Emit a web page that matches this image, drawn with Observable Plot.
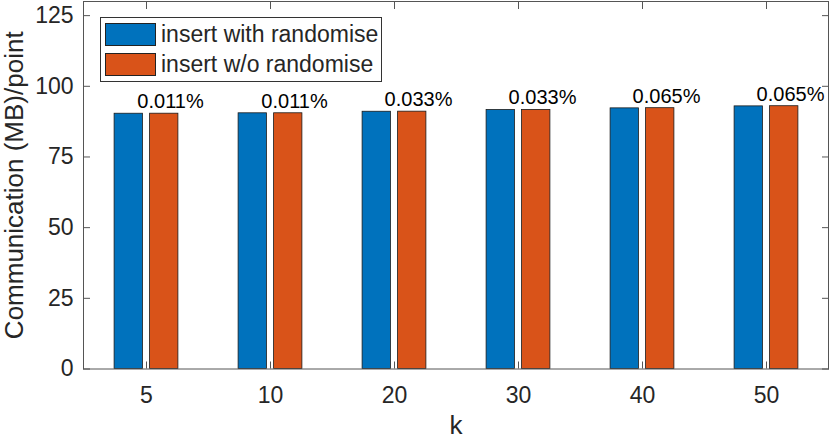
<!DOCTYPE html>
<html><head><meta charset="utf-8">
<script src="https://cdn.jsdelivr.net/npm/d3@7"></script>
<script src="https://cdn.jsdelivr.net/npm/@observablehq/plot@0.6"></script>
<style>
body{margin:0;background:#fff;}
#wrap{position:relative;width:830px;height:441px;font-family:"Liberation Sans",Arial,sans-serif;}
#wrap svg{display:block;}
.lg{position:absolute;left:100px;top:17px;width:280px;height:63px;border:1px solid #333;background:#fff;box-sizing:content-box;}
.sw{position:absolute;left:4px;width:49px;height:21px;border:1px solid #222;}
.lt{position:absolute;left:60px;height:23px;line-height:23px;font-size:23px;color:#262626;white-space:nowrap;}
</style></head><body><div id="wrap"></div>
<script>
const categories = ["5","10","20","30","40","50"];
const seriesNames = ["insert with randomise","insert w/o randomise"];
const withRandomise = [90.3,90.45,91.0,91.6,92.2,92.9];
const withoutRandomise = [90.31,90.46,91.03,91.63,92.26,92.96];
const diffLabels = ["0.011%","0.011%","0.033%","0.033%","0.065%","0.065%"];
const yTicks = [0,25,50,75,100,125];
const xLabel = "k";
const yLabel = "Communication (MB)/point";
const colors = ["#0072BD","#D95319"];

const rowsA = categories.map((k,i)=>({k, v: withRandomise[i]}));
const rowsB = categories.map((k,i)=>({k, v: withoutRandomise[i], label: diffLabels[i]}));

const axisColor = "#262626";
const lineColor = "#555";

const plot = Plot.plot({
  width: 830, height: 441,
  marginLeft: 83, marginRight: 2, marginTop: 1, marginBottom: 72.5,
  style: {fontFamily: "Liberation Sans, Arial, sans-serif", background: "white", color: axisColor},
  x: {type: "band", domain: categories, range: [82, 830], padding: 0},
  y: {domain: [0, 130]},
  marks: [
    Plot.barY(rowsA, {x: "k", y: "v", fill: colors[0], stroke: "#1a1a1a", strokeWidth: 0.8, insetLeft: 30.1, insetRight: 65.6}),
    Plot.barY(rowsB, {x: "k", y: "v", fill: colors[1], stroke: "#1a1a1a", strokeWidth: 0.8, insetLeft: 65.6, insetRight: 30.1}),
    Plot.text(rowsB, {x: "k", y: "v", text: "label", dx: 24, dy: -12, fontSize: 20, fill: "#000"}),
    Plot.axisY({anchor: "left", ticks: yTicks, tickSize: -7, tickPadding: 17, fontSize: 23, label: null, stroke: lineColor, fill: axisColor}),
    Plot.axisY({anchor: "right", ticks: yTicks, tickSize: -7, tickFormat: () => "", label: null, stroke: lineColor}),
    Plot.axisX({anchor: "bottom", tickSize: -7, tickPadding: 25, fontSize: 23, label: null, stroke: lineColor, fill: axisColor}),
    Plot.axisX({anchor: "top", tickSize: -7, tickFormat: () => "", label: null, stroke: lineColor}),
    Plot.frame({stroke: lineColor}),
    Plot.text([yLabel], {frameAnchor: "left", rotate: -90, textAnchor: "middle", lineAnchor: "middle", dx: -69, fontSize: 26, fill: axisColor}),
    Plot.text([xLabel], {frameAnchor: "bottom", textAnchor: "middle", lineAnchor: "middle", dy: 57, fontSize: 26, fill: axisColor})
  ]
});

const wrap = document.getElementById("wrap");
wrap.appendChild(plot);

const lg = document.createElement("div");
lg.className = "lg";
seriesNames.forEach((name, i) => {
  const sw = document.createElement("div");
  sw.className = "sw";
  sw.style.top = (5 + 30 * i) + "px";
  sw.style.background = colors[i];
  const t = document.createElement("div");
  t.className = "lt";
  t.style.top = (5 + 30 * i) + "px";
  t.textContent = name;
  lg.appendChild(sw);
  lg.appendChild(t);
});
wrap.appendChild(lg);
</script></body></html>
